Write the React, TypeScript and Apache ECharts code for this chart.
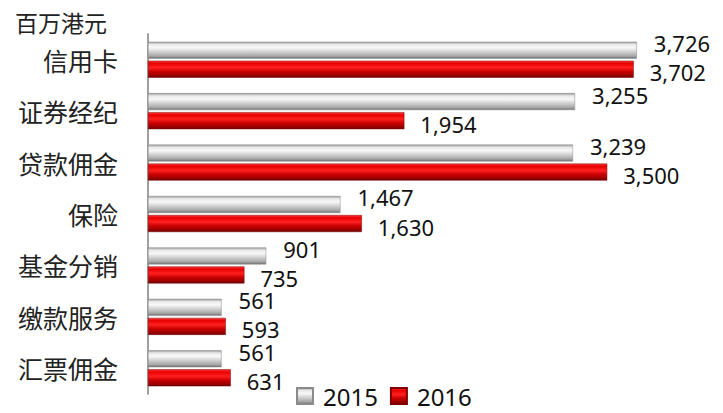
import React, { useEffect, useRef } from "react";
import * as echarts from "echarts";

const categories = ["信用卡", "证券经纪", "贷款佣金", "保险", "基金分销", "缴款服务", "汇票佣金"];
const values2015 = [3726, 3255, 3239, 1467, 901, 561, 561];
const values2016 = [3702, 1954, 3500, 1630, 735, 593, 631];
const seriesNames = ["2015", "2016"];
const unitLabel = "百万港元";

const FONT = "'Noto Sans', 'Noto Sans CJK SC', sans-serif";
const CJK = "'Noto Sans CJK SC', sans-serif";

const grayGrad = new echarts.graphic.LinearGradient(0, 0, 0, 1, [
  { offset: 0, color: "#9a9a9a" },
  { offset: 0.15, color: "#e8e8e8" },
  { offset: 0.35, color: "#f8f8f8" },
  { offset: 0.6, color: "#d0d0d0" },
  { offset: 0.85, color: "#a8a8a8" },
  { offset: 1, color: "#6e6e6e" },
]);
const redGrad = new echarts.graphic.LinearGradient(0, 0, 0, 1, [
  { offset: 0, color: "#ff3a3a" },
  { offset: 0.15, color: "#e80000" },
  { offset: 0.4, color: "#ff2020" },
  { offset: 0.65, color: "#c80000" },
  { offset: 0.85, color: "#a00000" },
  { offset: 1, color: "#6a0000" },
]);

export default function App() {
  const ref = useRef<HTMLDivElement>(null);
  useEffect(() => {
    const chart = echarts.init(ref.current!, null, { renderer: "svg" });
    const fmt = (p: any) => Number(p.value).toLocaleString("en-US");
    chart.setOption({
      animation: false,
      textStyle: { fontFamily: FONT },
      title: {
        text: unitLabel,
        left: 10,
        top: 5,
        textStyle: { fontSize: 23, fontWeight: "normal", color: "#222", fontFamily: CJK },
      },
      legend: {
        bottom: 0,
        left: 291,
        itemWidth: 16,
        itemHeight: 16,
        itemGap: 12,
        icon: "rect",
        data: seriesNames,
        textStyle: { fontSize: 24, color: "#111", fontFamily: FONT, padding: [0, 0, 0, 5], lineHeight: 20 },
      },
      grid: { left: 148, top: 34, width: 524.8, height: 360, containLabel: false },
      xAxis: {
        type: "value",
        min: 0,
        max: 4000,
        show: false,
      },
      yAxis: {
        type: "category",
        data: categories,
        inverse: true,
        axisLine: { show: true, lineStyle: { color: "#a0a0a0", width: 2 } },
        axisTick: { show: false },
        axisLabel: { fontSize: 25, color: "#222", margin: 30, fontFamily: CJK },
      },
      series: [
        {
          name: seriesNames[0],
          type: "bar",
          data: values2015,
          barWidth: 17,
          barGap: "12%",
          itemStyle: { color: grayGrad, borderColor: "#8a8a8a", borderWidth: 0.5 },
          label: {
            show: true,
            position: "right",
            distance: 17,
            offset: [0, -7],
            formatter: fmt,
            fontSize: 22,
            lineHeight: 18,
            color: "#111",
            fontFamily: FONT,
          },
        },
        {
          name: seriesNames[1],
          type: "bar",
          data: values2016,
          barWidth: 17,
          itemStyle: { color: redGrad, borderColor: "#800000", borderWidth: 0.5 },
          label: {
            show: true,
            position: "right",
            distance: 16,
            offset: [0, 3],
            formatter: fmt,
            fontSize: 22,
            lineHeight: 18,
            color: "#111",
            fontFamily: FONT,
          },
        },
      ],
    });
    return () => chart.dispose();
  }, []);
  return (
    <div
      ref={ref}
      style={{ position: "absolute", left: 0, top: 0, width: 723, height: 413, background: "#fff" }}
    />
  );
}
